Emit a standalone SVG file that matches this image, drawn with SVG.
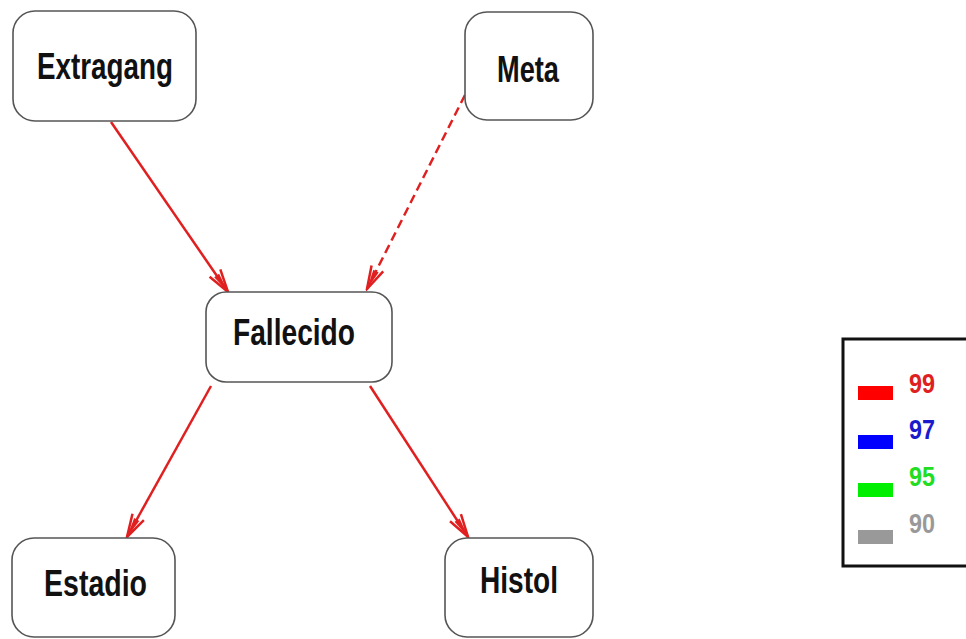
<svg xmlns="http://www.w3.org/2000/svg" width="966" height="639" viewBox="0 0 966 639">
<style>
.node rect{fill:#fff;stroke:#555;stroke-width:1.6}
.node text{font-family:"Liberation Sans",Arial,sans-serif;font-size:36px;font-weight:bold;fill:#111;text-anchor:middle}
.edge{stroke:#e02020;stroke-width:2.5;fill:none}
.dash{stroke-dasharray:9,5}
.leg{font-family:"Liberation Sans",Arial,sans-serif;font-size:27px;font-weight:bold}
</style>
<defs>
<marker id="ah" markerUnits="userSpaceOnUse" markerWidth="26" markerHeight="16" viewBox="0 0 26 16" refX="24" refY="8" orient="auto">
<path d="M1,1.5 L24,8 L1,14.5" fill="none" stroke="#e02020" stroke-width="2.5" stroke-linejoin="miter"/>
<path d="M4,5 L24,8 L4,11 Z" fill="#e02020"/>
</marker>
</defs>
<rect width="966" height="639" fill="#fff"/>
<g id="connectors">
<line class="edge" x1="111" y1="122" x2="228" y2="292" marker-end="url(#ah)"/>
<line class="edge dash" x1="465" y1="95" x2="367" y2="289" marker-end="url(#ah)"/>
<line class="edge" x1="211" y1="386" x2="127" y2="537" marker-end="url(#ah)"/>
<line class="edge" x1="370" y1="386" x2="468" y2="537" marker-end="url(#ah)"/>
</g>
<g id="node-extragang" class="node">
<rect x="13" y="11" width="183" height="110" rx="22"/>
<text x="105" y="79" textLength="136" lengthAdjust="spacingAndGlyphs">Extragang</text>
</g>
<g id="node-meta" class="node">
<rect x="465" y="12" width="128" height="108" rx="22"/>
<text x="528" y="82" textLength="62" lengthAdjust="spacingAndGlyphs">Meta</text>
</g>
<g id="node-fallecido" class="node">
<rect x="206" y="292" width="186" height="90" rx="20"/>
<text x="294" y="345" textLength="122" lengthAdjust="spacingAndGlyphs">Fallecido</text>
</g>
<g id="node-estadio" class="node">
<rect x="12" y="538" width="163" height="99" rx="22"/>
<text x="95.5" y="596" textLength="103" lengthAdjust="spacingAndGlyphs">Estadio</text>
</g>
<g id="node-histol" class="node">
<rect x="445" y="538" width="148" height="99" rx="22"/>
<text x="519" y="593" textLength="78" lengthAdjust="spacingAndGlyphs">Histol</text>
</g>
<g id="legend">
<rect x="843" y="339" width="130" height="227" fill="#fff" stroke="#111" stroke-width="3"/>
<rect x="858" y="386" width="35" height="14" fill="#ff0000"/>
<rect x="858" y="435" width="35" height="14" fill="#0000ff"/>
<rect x="858" y="483" width="35" height="14" fill="#00ee00"/>
<rect x="858" y="530" width="35" height="14" fill="#999"/>
<text class="leg" x="909" y="393" fill="#e02020" textLength="26" lengthAdjust="spacingAndGlyphs">99</text>
<text class="leg" x="909" y="439" fill="#1a1acc" textLength="26" lengthAdjust="spacingAndGlyphs">97</text>
<text class="leg" x="909" y="486" fill="#22dd22" textLength="26" lengthAdjust="spacingAndGlyphs">95</text>
<text class="leg" x="909" y="533" fill="#999" textLength="26" lengthAdjust="spacingAndGlyphs">90</text>
</g>
</svg>
